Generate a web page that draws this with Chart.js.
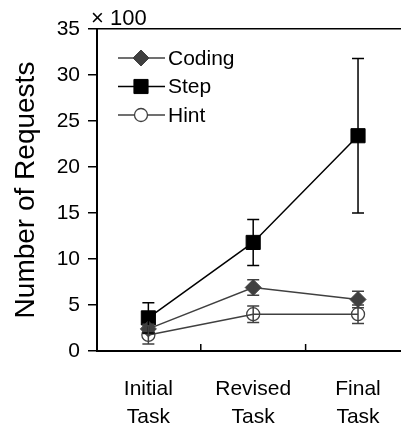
<!DOCTYPE html>
<html><head><meta charset="utf-8">
<script src="https://cdn.jsdelivr.net/npm/chart.js@4.4.1/dist/chart.umd.min.js"></script>
<style>
html,body{margin:0;padding:0;background:#fff;overflow:hidden;width:401px;height:430px}
canvas{display:block}
</style></head>
<body><canvas id="c" width="412" height="430"></canvas>
<script>
const categories = [['Initial','Task'],['Revised','Task'],['Final','Task']];
const seriesNames = ['Coding','Step','Hint'];
const codingValues = [2.4, 6.9, 5.6];
const codingErrors = [0.5, 0.85, 0.9];
const stepValues = [3.6, 11.8, 23.4];
const stepErrors = [1.65, 2.5, 8.4];
const hintValues = [1.75, 4.0, 4.0];
const hintErrors = [1.0, 0.9, 1.0];
const yTicks = [0, 5, 10, 15, 20, 25, 30, 35];
const yMultiplier = '× 100';
const yTitle = 'Number of Requests';

const FONT = '"Liberation Sans", Arial, sans-serif';
const GRAY = '#404040';

const toPoints = vals => vals.map((v, i) => ({ x: i, y: v }));

const errorBars = {
  id: 'errorBars',
  afterDatasetsDraw(chart) {
    const ctx = chart.ctx, ys = chart.scales.y;
    chart.data.datasets.forEach((ds, i) => {
      const meta = chart.getDatasetMeta(i);
      ctx.save();
      ctx.strokeStyle = ds.errorColor;
      ctx.lineWidth = 1.5;
      meta.data.forEach((pt, j) => {
        const v = ds.data[j].y, e = ds.errors[j];
        const yt = ys.getPixelForValue(v + e), yb = ys.getPixelForValue(v - e);
        const x = pt.x, hw = 6;
        ctx.beginPath();
        ctx.moveTo(x, yt); ctx.lineTo(x, yb);
        ctx.moveTo(x - hw, yt); ctx.lineTo(x + hw, yt);
        ctx.moveTo(x - hw, yb); ctx.lineTo(x + hw, yb);
        ctx.stroke();
      });
      ctx.restore();
    });
  }
};

function drawMarker(ctx, style, x, y, r, fill, stroke, lw) {
  ctx.save();
  ctx.beginPath();
  if (style === 'rect') {
    const s = Math.SQRT1_2 * r;
    ctx.rect(x - s, y - s, 2 * s, 2 * s);
  } else if (style === 'rectRot') {
    ctx.moveTo(x - r, y); ctx.lineTo(x, y - r); ctx.lineTo(x + r, y); ctx.lineTo(x, y + r); ctx.closePath();
  } else {
    ctx.arc(x, y, r, 0, Math.PI * 2);
  }
  ctx.fillStyle = fill; ctx.fill();
  ctx.strokeStyle = stroke; ctx.lineWidth = lw; ctx.stroke();
  ctx.restore();
}

const extras = {
  id: 'extras',
  afterDraw(chart) {
    const ctx = chart.ctx, a = chart.chartArea, xs = chart.scales.x;
    ctx.save();
    ctx.strokeStyle = '#000'; ctx.lineWidth = 1.5;
    for (let i = 0; i < categories.length - 1; i++) {
      const px = xs.getPixelForValue(i + 0.5);
      ctx.beginPath(); ctx.moveTo(px, a.bottom); ctx.lineTo(px, a.bottom - 7); ctx.stroke();
    }
    ctx.fillStyle = '#000';
    ctx.font = '22px ' + FONT;
    ctx.textAlign = 'left'; ctx.textBaseline = 'alphabetic';
    ctx.fillText(yMultiplier, a.left - 6, a.top - 4);
    chart.data.datasets.forEach((ds, i) => {
      const y = a.top + 29 + i * 28.5;
      const x1 = a.left + 21, x2 = a.left + 68, xm = a.left + 44;
      ctx.strokeStyle = ds.borderColor; ctx.lineWidth = 1.5;
      ctx.beginPath(); ctx.moveTo(x1, y); ctx.lineTo(x2, y); ctx.stroke();
      const fill = ds.pointStyle === 'circle' ? '#fff' : ds.backgroundColor;
      drawMarker(ctx, ds.pointStyle, xm, y, ds.pointRadius, fill, ds.borderColor, ds.pointBorderWidth);
      ctx.fillStyle = '#000';
      ctx.font = '21px ' + FONT;
      ctx.textBaseline = 'middle';
      ctx.fillText(ds.label, a.left + 71, y + 1);
    });
    ctx.restore();
  }
};

new Chart(document.getElementById('c'), {
  type: 'line',
  data: {
    datasets: [
      { label: seriesNames[0], data: toPoints(codingValues), errors: codingErrors, errorColor: GRAY,
        borderColor: GRAY, backgroundColor: GRAY, borderWidth: 1.5,
        pointStyle: 'rectRot', pointRadius: 8, pointBorderWidth: 1 },
      { label: seriesNames[1], data: toPoints(stepValues), errors: stepErrors, errorColor: '#000',
        borderColor: '#000', backgroundColor: '#000', borderWidth: 1.5,
        pointStyle: 'rect', pointRadius: 10, pointBorderWidth: 1 },
      { label: seriesNames[2], data: toPoints(hintValues), errors: hintErrors, errorColor: GRAY,
        borderColor: GRAY, backgroundColor: 'rgba(0,0,0,0)', borderWidth: 1.5,
        pointStyle: 'circle', pointRadius: 6.5, pointBorderWidth: 1.3 }
    ]
  },
  options: {
    responsive: false,
    maintainAspectRatio: false,
    animation: false,
    devicePixelRatio: 1,
    layout: { padding: { top: 29, left: 0, right: 0, bottom: 0 } },
    plugins: { legend: { display: false }, tooltip: { enabled: false } },
    scales: {
      x: {
        type: 'linear',
        min: -0.49, max: 2.41,
        afterBuildTicks(s) { s.ticks = categories.map((c, i) => ({ value: i })); },
        grid: { display: false },
        border: { display: true, color: '#000', width: 2 },
        ticks: { color: '#000', font: { family: FONT, size: 21, lineHeight: '28px' },
                 padding: 16, maxRotation: 0, autoSkip: false,
                 callback: v => categories[v] },
        afterFit(s) { s.height = 79; }
      },
      y: {
        min: 0, max: 35,
        afterBuildTicks(s) { s.ticks = yTicks.map(v => ({ value: v })); },
        ticks: { color: '#000', font: { family: FONT, size: 21 }, padding: 8 },
        grid: {
          color: c => (c.tick && c.tick.value === 35) ? '#000' : 'rgba(0,0,0,0)',
          tickColor: '#000', tickLength: 9, lineWidth: 1.5, tickWidth: 1.5
        },
        border: { display: true, color: '#000', width: 2 },
        title: { display: true, text: yTitle, color: '#000',
                 font: { family: FONT, size: 28 }, padding: { top: 9, bottom: 0 } },
        afterFit(s) { s.width = 97; }
      }
    }
  },
  plugins: [errorBars, extras]
});
</script>
</body></html>
